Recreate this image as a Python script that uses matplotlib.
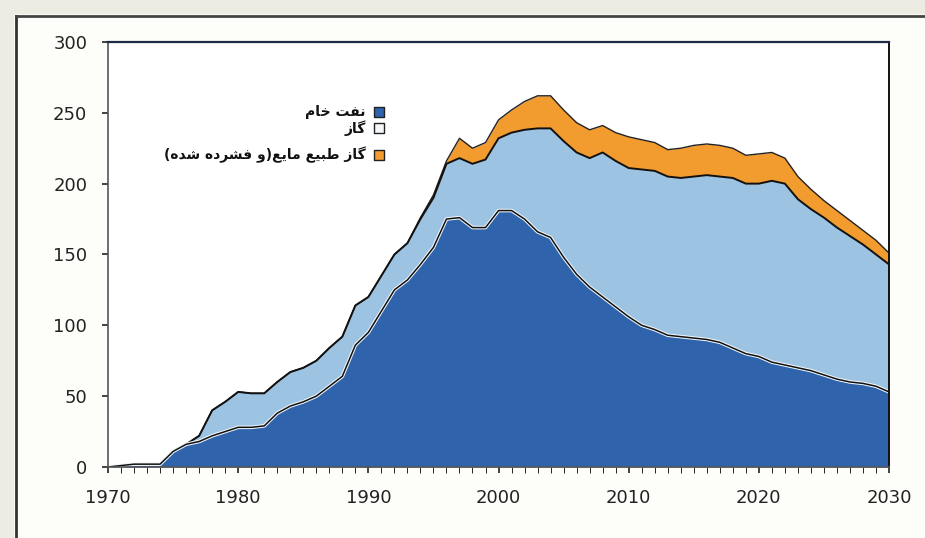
import numpy as np
import matplotlib
matplotlib.use("Agg")
import matplotlib.pyplot as plt
from matplotlib.lines import Line2D
from matplotlib.patches import Rectangle
from matplotlib.ticker import MultipleLocator

years = list(range(1970, 2031))
# stacked tops
crude = [0, 1, 2, 2, 2, 11, 16, 18, 22, 25,
         28, 28, 29, 38, 43, 46, 50, 57, 64, 86,
         95, 110, 125, 132, 143, 155, 175, 176, 169, 169,
         181, 181, 175, 166, 162, 148, 136, 127, 120, 113,
         106, 100, 97, 93, 92, 91, 90, 88, 84, 80,
         78, 74, 72, 70, 68, 65, 62, 60, 59, 57,
         53]
gas_top = [0, 1, 2, 2, 2, 11, 16, 22, 40, 46,
           53, 52, 52, 60, 67, 70, 75, 84, 92, 114,
           120, 135, 150, 158, 175, 190, 214, 218, 214, 217,
           232, 236, 238, 239, 239, 230, 222, 218, 222, 216,
           211, 210, 209, 205, 204, 205, 206, 205, 204, 200,
           200, 202, 200, 189, 182, 176, 169, 163, 157, 150,
           143]
total_top = [0, 1, 2, 2, 2, 11, 16, 22, 40, 46,
             53, 52, 52, 60, 67, 70, 75, 84, 92, 114,
             120, 135, 150, 158, 176, 192, 216, 232, 225, 229,
             245, 252, 258, 262, 262, 252, 243, 238, 241, 236,
             233, 231, 229, 224, 225, 227, 228, 227, 225, 220,
             221, 222, 218, 205, 196, 188, 181, 174, 167, 160,
             151]

labels = ["نفت خام", "گاز", "گاز طبیع مایع(و فشرده شده)"]
colors = ["#2F63AC", "#9DC3E3", "#F29B2E"]
marker_colors = ["#2F63AC", "#F4F8FB", "#F29B2E"]

# crude arabic shaping (matplotlib does no shaping)
FORMS = {
    "ا": ("\uFE8D", "\uFE8E", None, None),
    "ب": ("\uFE8F", "\uFE90", "\uFE91", "\uFE92"),
    "ت": ("\uFE95", "\uFE96", "\uFE97", "\uFE98"),
    "خ": ("\uFEA5", "\uFEA6", "\uFEA7", "\uFEA8"),
    "د": ("\uFEA9", "\uFEAA", None, None),
    "ر": ("\uFEAD", "\uFEAE", None, None),
    "ز": ("\uFEAF", "\uFEB0", None, None),
    "ش": ("\uFEB5", "\uFEB6", "\uFEB7", "\uFEB8"),
    "ط": ("\uFEC1", "\uFEC2", "\uFEC3", "\uFEC4"),
    "ع": ("\uFEC9", "\uFECA", "\uFECB", "\uFECC"),
    "ف": ("\uFED1", "\uFED2", "\uFED3", "\uFED4"),
    "م": ("\uFEE1", "\uFEE2", "\uFEE3", "\uFEE4"),
    "ن": ("\uFEE5", "\uFEE6", "\uFEE7", "\uFEE8"),
    "ه": ("\uFEE9", "\uFEEA", "\uFEEB", "\uFEEC"),
    "و": ("\uFEED", "\uFEEE", None, None),
    "ی": ("\uFBFC", "\uFBFD", "\uFBFE", "\uFBFF"),
    "گ": ("\uFB92", "\uFB93", "\uFB94", "\uFB95"),
}


def shape(s):
    out = []
    for i, ch in enumerate(s):
        if ch not in FORMS:
            out.append(ch)
            continue
        prev = s[i - 1] if i > 0 else ""
        nxt = s[i + 1] if i + 1 < len(s) else ""
        join_prev = prev in FORMS and FORMS[prev][2] is not None
        join_next = nxt in FORMS and FORMS[ch][2] is not None
        iso, fin, ini, med = FORMS[ch]
        if join_prev and join_next:
            out.append(med)
        elif join_prev:
            out.append(fin)
        elif join_next:
            out.append(ini)
        else:
            out.append(iso)
    vis = "".join(out)[::-1]
    return vis.translate(str.maketrans("()", ")("))


fig = plt.figure(figsize=(9.25, 5.38), dpi=100, facecolor="#FDFDF9")
ax = fig.add_axes([0.1168, 0.132, 0.8443, 0.790])
ax.set_facecolor("#FFFFFF")

# outer frame of the screenshot
fig.add_artist(Rectangle((0, 0), 13 / 925, 1, transform=fig.transFigure, color="#ECECE3", zorder=0))
fig.add_artist(Rectangle((0, 1 - 13 / 538), 1, 13 / 538, transform=fig.transFigure, color="#ECECE3", zorder=0))
fig.add_artist(Line2D([16 / 925, 16 / 925], [0, 1 - 16 / 538], transform=fig.transFigure, color="#333333", lw=2))
fig.add_artist(Line2D([16 / 925, 1], [1 - 16 / 538, 1 - 16 / 538], transform=fig.transFigure, color="#444444", lw=2))

x = np.array(years)
ax.fill_between(x, 0, crude, color=colors[0], lw=0)
ax.fill_between(x, crude, gas_top, color=colors[1], lw=0)
ax.fill_between(x, gas_top, total_top, color=colors[2], lw=0)
ax.plot(x, total_top, color="#222222", lw=1.0)
ax.plot(x, gas_top, color="#111111", lw=1.4)
ax.plot(x, crude, color="#F0F6FA", lw=2.6)
ax.plot(x, crude, color="#111111", lw=1.1)

ax.set_xlim(1970, 2030)
ax.set_ylim(0, 300)
ax.set_yticks(range(0, 301, 50))
ax.set_xticks(range(1970, 2031, 10))
ax.xaxis.set_minor_locator(MultipleLocator(1))
ax.tick_params(axis="both", labelsize=13, colors="#222222", width=1.2)
ax.tick_params(axis="x", which="both", direction="out", length=4, pad=12)
ax.tick_params(axis="y", direction="out", length=4, pad=11)
for side in ["left", "bottom"]:
    ax.spines[side].set_color("#555555")
    ax.spines[side].set_linewidth(1.2)
ax.spines["top"].set_color("#1F2A44")
ax.spines["top"].set_linewidth(1.6)
ax.spines["right"].set_color("#111111")
ax.spines["right"].set_linewidth(1.4)

# legend, right-to-left: text left of the square
leg_y = [0.835, 0.797, 0.735]
for lab, c, yy in zip(labels, marker_colors, leg_y):
    ax.scatter([0.347], [yy], transform=ax.transAxes, marker="s", s=45,
               color=c, edgecolor="#222222", linewidth=1.0, zorder=5)
    ax.text(0.33, yy, shape(lab), transform=ax.transAxes, ha="right", va="center",
            fontsize=10, fontweight="bold", family=["DejaVu Sans"], color="#111111")

fig.savefig("out.png", dpi=100, facecolor=fig.get_facecolor())
